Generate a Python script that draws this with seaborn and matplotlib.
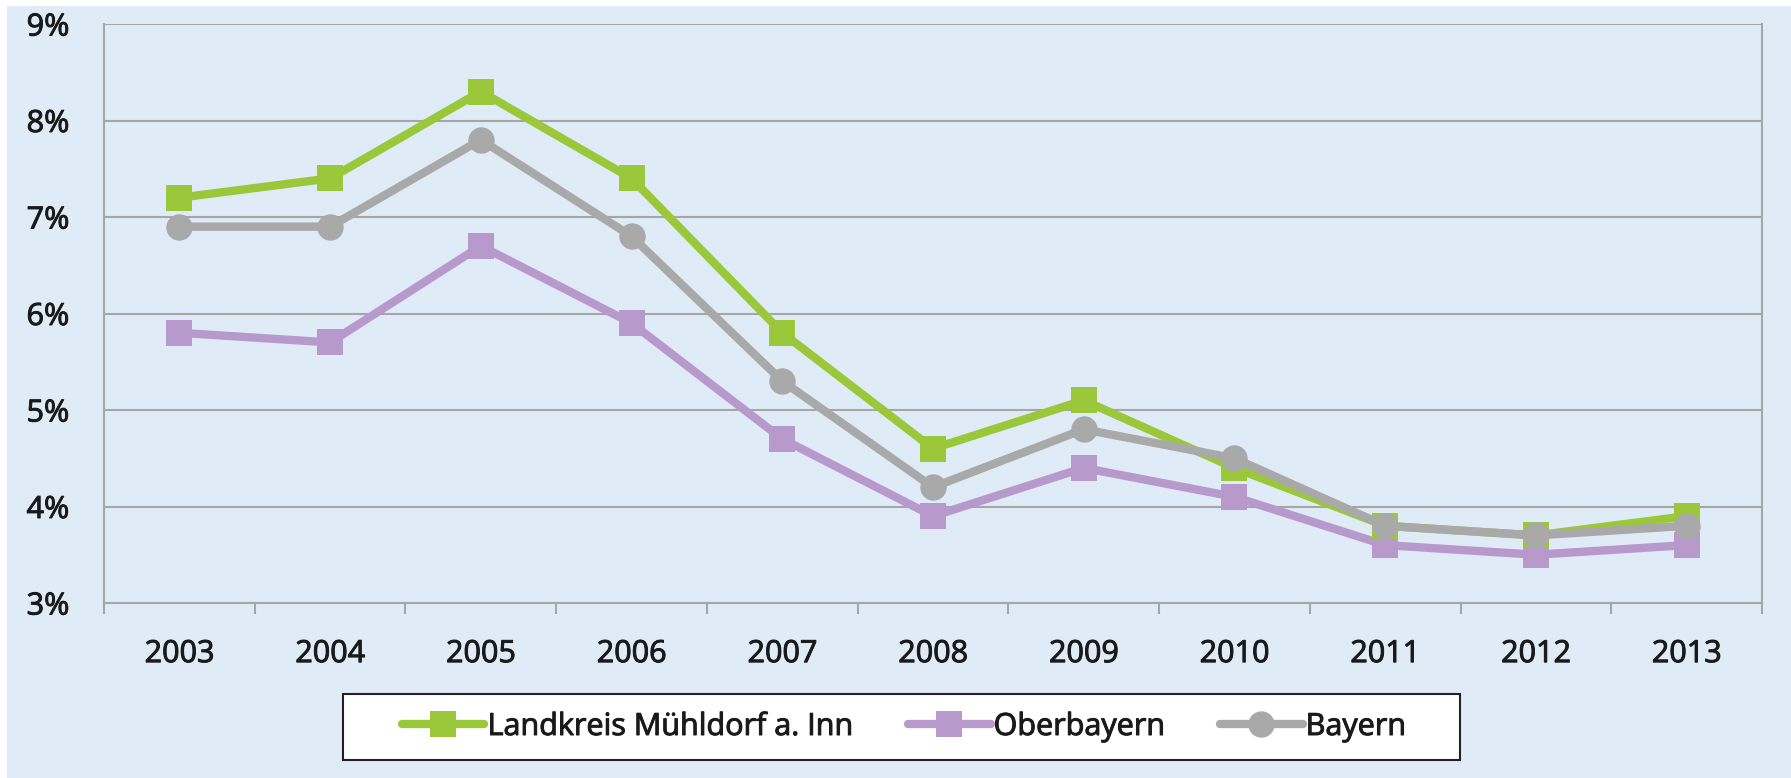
import matplotlib
matplotlib.use("Agg")
import matplotlib.pyplot as plt
import matplotlib.patheffects as pe
import seaborn as sns
import pandas as pd
import numpy as np
from matplotlib.patches import Rectangle
from matplotlib.lines import Line2D
from matplotlib.ticker import FixedLocator, FuncFormatter

years = ["2003", "2004", "2005", "2006", "2007", "2008", "2009", "2010", "2011", "2012", "2013"]
muehldorf = [7.2, 7.4, 8.3, 7.4, 5.8, 4.6, 5.1, 4.4, 3.8, 3.7, 3.9]
oberbayern = [5.8, 5.7, 6.7, 5.9, 4.7, 3.9, 4.4, 4.1, 3.6, 3.5, 3.6]
bayern = [6.9, 6.9, 7.8, 6.8, 5.3, 4.2, 4.8, 4.5, 3.8, 3.7, 3.8]
series_names = ["Landkreis Mühldorf a. Inn", "Oberbayern", "Bayern"]
y_ticks = [3, 4, 5, 6, 7, 8, 9]

colors = {"Landkreis Mühldorf a. Inn": "#9BC83A", "Oberbayern": "#B899CC", "Bayern": "#A9A9A9"}
markers = {"Landkreis Mühldorf a. Inn": "s", "Oberbayern": "s", "Bayern": "o"}

sns.set_theme(style="white")
plt.rcParams["font.family"] = ["Open Sans", "DejaVu Sans"]

bg = "#DFECF7"
txt_c = "#1a1a1a"
W, H = 1791, 778
fig = plt.figure(figsize=(W / 100, H / 100), dpi=100, facecolor="white")
fig.patches.append(Rectangle((7 / W, 0), 1 - 7 / W, 1 - 6 / H, transform=fig.transFigure,
                             facecolor=bg, edgecolor="none", zorder=-10))
ax = fig.add_axes([104 / W, 1 - 603 / H, (1762 - 104) / W, (603 - 24) / H])
ax.set_facecolor(bg)

x_idx = np.arange(len(years))
frames = []
for name, vals in zip(series_names, [muehldorf, oberbayern, bayern]):
    frames.append(pd.DataFrame({"x": x_idx, "value": vals, "series": name}))
df = pd.concat(frames, ignore_index=True)

draw_order = ["Oberbayern", "Landkreis Mühldorf a. Inn", "Bayern"]
for i, name in enumerate(draw_order):
    sub = df[df["series"] == name]
    sns.lineplot(data=sub, x="x", y="value", ax=ax, color=colors[name], marker=markers[name],
                 markersize=19, markeredgewidth=0, linewidth=6, zorder=3 + i, legend=False)

ax.set_xlim(-0.5, len(years) - 0.5)
ax.set_ylim(3, 9)
ax.set_yticks(y_ticks)
ax.yaxis.set_major_formatter(FuncFormatter(lambda v, p: f"{int(v)}%"))
ax.set_xticks(x_idx)
ax.set_xticklabels(years)
ax.xaxis.set_minor_locator(FixedLocator(np.arange(-0.5, len(years), 1.0)))
ax.set_xlabel("")
ax.set_ylabel("")

grid_c = "#A6A6A6"
ax.grid(axis="y", color=grid_c, linewidth=1.5, zorder=0)
ax.set_axisbelow(True)
for s in ["left", "right", "bottom"]:
    ax.spines[s].set_color(grid_c)
    ax.spines[s].set_linewidth(1.5)
ax.spines["top"].set_visible(False)

ax.tick_params(axis="y", which="major", length=9, width=1.5, color=grid_c, pad=16,
               labelsize=22, labelcolor=txt_c)
ax.tick_params(axis="x", which="major", length=0, pad=26, labelsize=22, labelcolor=txt_c)
ax.tick_params(axis="x", which="minor", length=8, width=1.5, color=grid_c, direction="out",
               bottom=True)

stroke = [pe.withStroke(linewidth=0.7, foreground=txt_c)]
for t in ax.get_xticklabels() + ax.get_yticklabels():
    t.set_path_effects(stroke)

# legend box
fig.patches.append(Rectangle((343 / W, 1 - 760 / H), (1460 - 343) / W, (760 - 694) / H,
                             transform=fig.transFigure, facecolor="white", edgecolor="#222222",
                             linewidth=1.5, zorder=5))
handles = [Line2D([], [], color=colors[n], marker=markers[n], markersize=19, markeredgewidth=0,
                  linewidth=6) for n in series_names]
leg = fig.legend(handles, series_names, loc="center", bbox_to_anchor=(904 / W, 1 - 727 / H),
                 ncol=3, frameon=False, fontsize=22, handlelength=2.7,
                 handletextpad=0.1, columnspacing=1.8, borderaxespad=0)
leg.set_zorder(6)
for t in leg.get_texts():
    t.set_color(txt_c)
    t.set_path_effects(stroke)

fig.savefig("out.png", dpi=100, facecolor=fig.get_facecolor())
